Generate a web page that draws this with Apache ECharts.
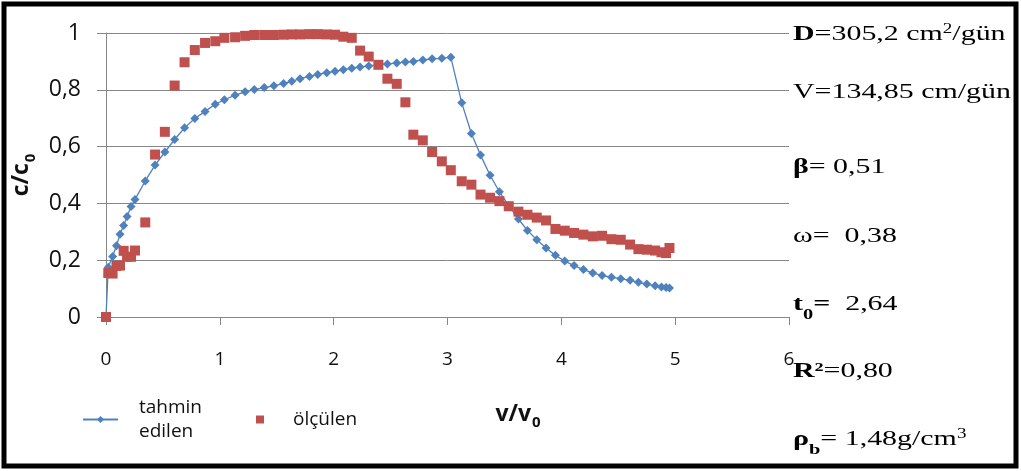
<!DOCTYPE html>
<html>
<head>
<meta charset="utf-8">
<script src="https://cdn.jsdelivr.net/npm/echarts@6/dist/echarts.min.js"></script>
<style>
html,body{margin:0;padding:0;background:#fff;}
#chart{width:1021px;height:471px;}
</style>
</head>
<body>
<div id="chart"></div>
<script>
// ---- data ----
const xValues = [0, 0.02, 0.058, 0.092, 0.123, 0.155, 0.185, 0.22, 0.255, 0.345, 0.431, 0.517, 0.603, 0.69, 0.78, 0.87, 0.96, 1.04, 1.134, 1.222, 1.303, 1.39, 1.475, 1.56, 1.632, 1.705, 1.787, 1.86, 1.939, 2.012, 2.085, 2.159, 2.232, 2.308, 2.393, 2.472, 2.554, 2.63, 2.7, 2.783, 2.865, 2.95, 3.029, 3.125, 3.21, 3.29, 3.374, 3.456, 3.538, 3.623, 3.702, 3.784, 3.866, 3.948, 4.03, 4.112, 4.194, 4.276, 4.358, 4.44, 4.522, 4.604, 4.677, 4.751, 4.824, 4.88, 4.92, 4.95];
const tahminEdilen = [0, 0.175, 0.213, 0.251, 0.291, 0.322, 0.354, 0.389, 0.414, 0.479, 0.535, 0.581, 0.625, 0.666, 0.699, 0.724, 0.749, 0.765, 0.781, 0.793, 0.801, 0.808, 0.814, 0.822, 0.83, 0.839, 0.847, 0.854, 0.86, 0.865, 0.871, 0.876, 0.88, 0.884, 0.889, 0.891, 0.894, 0.898, 0.9, 0.905, 0.909, 0.911, 0.915, 0.754, 0.646, 0.57, 0.499, 0.441, 0.393, 0.345, 0.305, 0.272, 0.243, 0.217, 0.197, 0.181, 0.167, 0.155, 0.146, 0.14, 0.135, 0.129, 0.122, 0.116, 0.11, 0.106, 0.104, 0.102];
const olculen = [0, 0.155, 0.153, 0.18, 0.181, 0.233, 0.212, 0.212, 0.234, 0.333, 0.572, 0.652, 0.815, 0.897, 0.94, 0.965, 0.971, 0.983, 0.985, 0.99, 0.993, 0.993, 0.993, 0.994, 0.995, 0.995, 0.996, 0.996, 0.995, 0.994, 0.987, 0.983, 0.938, 0.917, 0.888, 0.839, 0.821, 0.756, 0.642, 0.622, 0.581, 0.548, 0.517, 0.478, 0.466, 0.431, 0.42, 0.408, 0.39, 0.371, 0.36, 0.35, 0.34, 0.31, 0.304, 0.296, 0.29, 0.284, 0.286, 0.274, 0.272, 0.255, 0.239, 0.237, 0.234, 0.228, 0.225, 0.243];
const xTickLabels = ['0', '1', '2', '3', '4', '5', '6'];
const yTickLabels = ['0', '0,2', '0,4', '0,6', '0,8', '1'];
const seriesNames = ['tahmin\nedilen', 'ölçülen'];
const paramLines = [
  '{b|D}{r|=305,2 cm}{sup|2}{r|/gün}',
  '{r|V=134,85 cm/gün}',
  '{b|β}{r|= 0,51}',
  '{r|ω=  0,38}',
  '{b|t}{bsub|0}{b|=}{r|  2,64}',
  '{b|R²}{r|=0,80}',
  '{b|ρ}{bsub|b}{r|= 1,48g/cm}{sup|3}'
];
const paramY = [34, 92.5, 167.5, 236.5, 304.5, 371, 439.5];

const BLUE = '#4F81BD', RED = '#C0504D', GRID = '#878787';
const sans = 'Open Sans';
const serif = 'Liberation Serif';

const chart = echarts.init(document.getElementById('chart'), null, {renderer: 'canvas'});

const serifRich = {
  r: {fontFamily: serif, fontSize: 22, lineHeight: 24, color: '#000'},
  b: {fontFamily: serif, fontSize: 22, lineHeight: 24, fontWeight: 'bold', color: '#000'},
  sup: {fontFamily: serif, fontSize: 14, lineHeight: 14, verticalAlign: 'top', color: '#000'},
  bsub: {fontFamily: serif, fontSize: 15, lineHeight: 15, fontWeight: 'bold', verticalAlign: 'bottom', color: '#000', padding: [0, 0, -6, 0]}
};

const graphics = paramLines.map((t, i) => ({
  type: 'text',
  x: 793,
  y: paramY[i],
  scaleX: 1.36,
  scaleY: 1,
  z: 10,
  style: {
    text: t,
    rich: serifRich,
    align: 'left',
    verticalAlign: 'middle',
    textAlign: 'left',
    textVerticalAlign: 'middle'
  }
}));
graphics.push({
  type: 'rect',
  shape: {x: 4, y: 4, width: 1012, height: 462},
  style: {fill: 'none', stroke: '#000', lineWidth: 5},
  z: 20
});

const option = {
  animation: false,
  backgroundColor: '#fff',
  grid: {left: 106, top: 33, width: 683, height: 284, containLabel: false},
  xAxis: {
    type: 'value', min: 0, max: 6, interval: 1,
    name: '{m|v/v}{s|0}',
    nameLocation: 'middle',
    nameGap: 84,
    nameTextStyle: {
      padding: [0, 0, 0, 141],
      rich: {
        m: {fontFamily: sans, fontSize: 23, fontWeight: 'bold', color: '#111', lineHeight: 26},
        s: {fontFamily: sans, fontSize: 15, fontWeight: 'bold', color: '#111', verticalAlign: 'bottom', lineHeight: 15, padding: [0, 0, -3, 1]}
      }
    },
    axisLine: {show: true, lineStyle: {color: GRID, width: 1}},
    axisTick: {show: true, length: 8, lineStyle: {color: GRID}},
    splitLine: {show: false},
    axisLabel: {
      margin: 33, fontFamily: sans, fontSize: 19, color: '#111',
      formatter: v => xTickLabels[Math.round(v)]
    }
  },
  yAxis: {
    type: 'value', min: 0, max: 1, interval: 0.2,
    name: '{m|c/c}{s|0}',
    nameLocation: 'middle',
    nameRotate: 90,
    nameGap: 62,
    nameTextStyle: {
      rich: {
        m: {fontFamily: sans, fontSize: 23, fontWeight: 'bold', color: '#111', lineHeight: 26},
        s: {fontFamily: sans, fontSize: 15, fontWeight: 'bold', color: '#111', verticalAlign: 'bottom', lineHeight: 15, padding: [0, 0, -3, 1]}
      }
    },
    axisLine: {show: true, lineStyle: {color: GRID, width: 1}},
    axisTick: {show: true, length: 9, lineStyle: {color: GRID}},
    splitLine: {show: true, lineStyle: {color: GRID, width: 1}},
    axisLabel: {
      margin: 25, fontFamily: sans, fontSize: 23, color: '#111',
      formatter: v => yTickLabels[Math.round(v * 5)]
    }
  },
  legend: [
    {
      data: [seriesNames[0]], left: 82, top: 398, padding: 0,
      itemWidth: 35, itemHeight: 9, selectedMode: false,
      formatter: n => n.split('\n').map(s => '{t|' + s + '}').join('\n'),
      textStyle: {
        rich: {t: {fontFamily: sans, fontSize: 19, lineHeight: 24, color: '#111', padding: [0, 0, 0, 16]}}
      }
    },
    {
      data: [seriesNames[1]], left: 256, top: 410, padding: 0,
      itemWidth: 8, itemHeight: 8, selectedMode: false,
      formatter: n => '{t|' + n + '}',
      textStyle: {
        rich: {t: {fontFamily: sans, fontSize: 19, lineHeight: 24, color: '#111', padding: [0, 0, 0, 24]}}
      }
    }
  ],
  series: [
    {
      name: seriesNames[0],
      type: 'line',
      data: xValues.map((x, i) => [x, tahminEdilen[i]]),
      symbol: 'diamond',
      symbolSize: 9,
      showAllSymbol: true,
      lineStyle: {color: BLUE, width: 1.3},
      itemStyle: {color: BLUE},
      z: 2
    },
    {
      name: seriesNames[1],
      type: 'scatter',
      data: xValues.map((x, i) => [x, olculen[i]]),
      symbol: 'rect',
      symbolSize: 10,
      itemStyle: {color: RED, opacity: 1},
      z: 3
    }
  ],
  graphic: graphics
};
chart.setOption(option);
</script>
</body>
</html>
